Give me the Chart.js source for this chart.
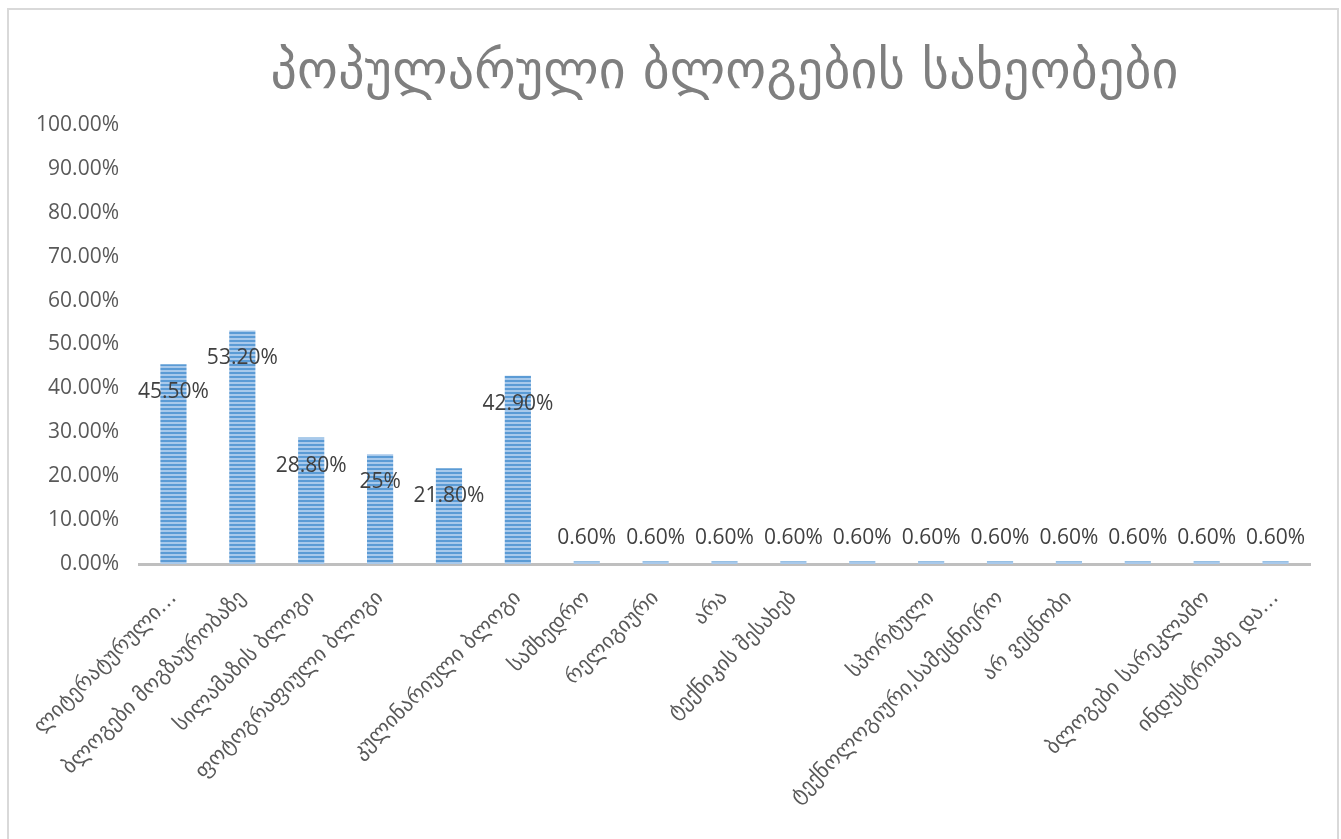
<!DOCTYPE html>
<html>
<head>
<meta charset="utf-8">
<title>პოპულარული ბლოგების სახეობები</title>
<script src="https://cdn.jsdelivr.net/npm/chart.js@4.4.1/dist/chart.umd.min.js"></script>
<style>
    html, body { margin: 0; padding: 0; background: #ffffff; }
    canvas { display: block; }
</style>
</head>
<body>
<canvas id="blogChart" width="1341" height="839"></canvas>
<script>
// blog types and share of respondents (%)
const categories = [
    'ლიტერატურული…',
    'ბლოგები მოგზაურობაზე',
    'სილამაზის ბლოგი',
    'ფოტოგრაფიული ბლოგი',
    '',
    'კულინარიული ბლოგი',
    'სამხედრო',
    'რელიგიური',
    'არა',
    'ტექნიკის შესახებ',
    '',
    'სპორტული',
    'ტექნოლოგიური,სამეცნიერო',
    'არ ვეცნობი',
    '',
    'ბლოგები სარეკლამო',
    'ინდუსტრიაზე და…'
];
const shares = [45.5, 53.2, 28.8, 25, 21.8, 42.9, 0.6, 0.6, 0.6, 0.6, 0.6, 0.6, 0.6, 0.6, 0.6, 0.6, 0.6];
const yTicks = [0, 10, 20, 30, 40, 50, 60, 70, 80, 90, 100];
const chartTitle = 'პოპულარული ბლოგების სახეობები';

const numFont = '"Open Sans", "DejaVu Sans", sans-serif';
const geoFont = '"DejaVu Sans", sans-serif';

// striped fill for the bars
function stripePattern() {
    const c = document.createElement('canvas');
    c.width = 4;
    c.height = 4;
    const g = c.getContext('2d');
    g.fillStyle = '#a8c9eb';
    g.fillRect(0, 0, 4, 4);
    g.fillStyle = '#5b9bd5';
    g.fillRect(0, 0, 4, 2);
    return g.createPattern(c, 'repeat');
}

function fmtPct(v) {
    return Number.isInteger(v) ? v + '%' : v.toFixed(2) + '%';
}

// frame, title centred over the plot area, value labels
const decorations = {
    id: 'decorations',
    beforeDraw(chart) {
        const ctx = chart.ctx;
        ctx.save();
        ctx.strokeStyle = '#d9d9d9';
        ctx.lineWidth = 2;
        ctx.strokeRect(8, 9, 1330, 850);
        ctx.restore();
    },
    afterDatasetsDraw(chart) {
        const ctx = chart.ctx;
        const area = chart.chartArea;
        ctx.save();

        // title
        ctx.font = '52px ' + geoFont;
        ctx.fillStyle = '#7f7f7f';
        ctx.textAlign = 'center';
        ctx.textBaseline = 'middle';
        const plain = ctx.measureText(chartTitle).width;
        const spacing = Math.max(0, (909 - plain) / (chartTitle.length - 1));
        if ('letterSpacing' in ctx) ctx.letterSpacing = spacing.toFixed(1) + 'px';
        ctx.fillText(chartTitle, (area.left + area.right) / 2 + spacing / 2, 74);
        if ('letterSpacing' in ctx) ctx.letterSpacing = '0px';

        // data labels
        ctx.font = '21px ' + numFont;
        ctx.fillStyle = '#404040';
        const meta = chart.getDatasetMeta(0);
        const base = chart.scales.y.getPixelForValue(0);
        meta.data.forEach(function(bar, i) {
            const y = Math.min(bar.y + 28, base - 26);
            ctx.fillText(fmtPct(shares[i]), bar.x, y);
        });
        ctx.restore();
    }
};

const ctx = document.getElementById('blogChart').getContext('2d');
const blogChart = new Chart(ctx, {
    type: 'bar',
    data: {
        labels: categories,
        datasets: [{
            data: shares,
            backgroundColor: stripePattern(),
            borderWidth: 0,
            categoryPercentage: 1,
            barPercentage: 0.38
        }]
    },
    options: {
        responsive: false,
        animation: false,
        layout: {
            padding: { top: 125, left: 35, right: 31, bottom: 0 }
        },
        scales: {
            x: {
                grid: { display: false, drawTicks: false },
                border: { display: true, color: '#bfbfbf', width: 3 },
                ticks: {
                    autoSkip: false,
                    minRotation: 45,
                    maxRotation: 45,
                    padding: 22,
                    color: '#595959',
                    font: { family: geoFont, size: 21 }
                },
                afterFit: function(scale) {
                    scale.height = 275;
                    scale.paddingLeft = 0;
                    scale.paddingRight = 0;
                }
            },
            y: {
                min: 0,
                max: 100,
                afterBuildTicks: function(scale) {
                    scale.ticks = yTicks.map(function(v) { return { value: v }; });
                },
                grid: { display: false, drawTicks: false },
                border: { display: false },
                ticks: {
                    padding: 20,
                    color: '#595959',
                    font: { family: numFont, size: 21 },
                    callback: function(v) { return v.toFixed(2) + '%'; }
                },
                afterFit: function(scale) {
                    scale.width = 104;
                }
            }
        },
        plugins: {
            legend: { display: false },
            tooltip: { enabled: false },
            title: { display: false }
        }
    },
    plugins: [decorations]
});
</script>
</body>
</html>
